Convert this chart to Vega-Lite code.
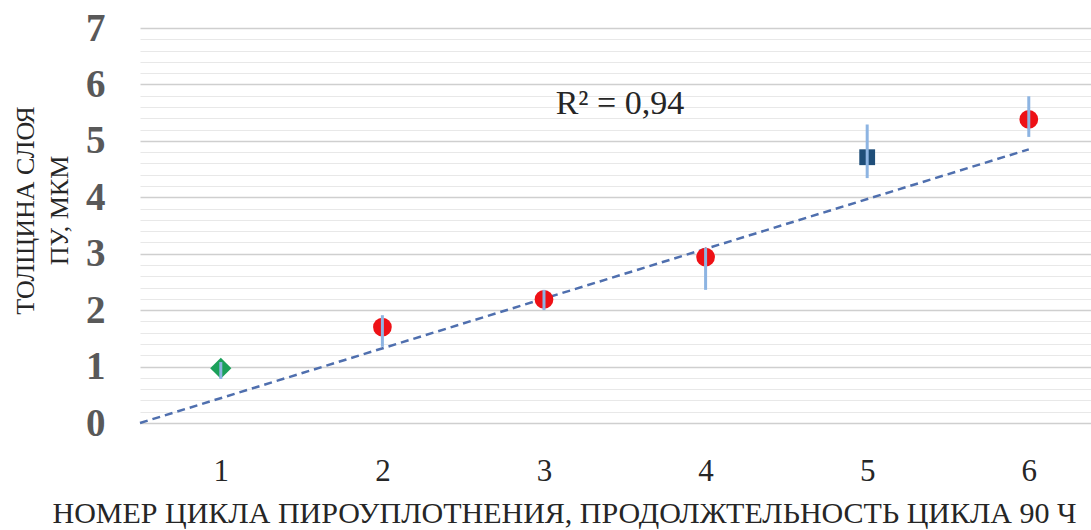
{
  "$schema": "https://vega.github.io/schema/vega-lite/v6.json",
  "autosize": {"type": "none"},
  "width": 951,
  "height": 395,
  "padding": {"left": 140, "top": 28, "right": 0, "bottom": 107},
  "background": "white",
  "config": {"view": {"stroke": null}, "font": "Liberation Serif"},
  "datasets": {
    "pts": [
      {"cycle": 1, "thickness": 0.97, "low": 0.78, "high": 1.08, "series": "a"},
      {"cycle": 2, "thickness": 1.70, "low": 1.35, "high": 1.91, "series": "b"},
      {"cycle": 3, "thickness": 2.19, "low": 2.0, "high": 2.36, "series": "b"},
      {"cycle": 4, "thickness": 2.94, "low": 2.36, "high": 3.10, "series": "b"},
      {"cycle": 5, "thickness": 4.71, "low": 4.34, "high": 5.29, "series": "c"},
      {"cycle": 6, "thickness": 5.38, "low": 5.07, "high": 5.79, "series": "b"}
    ],
    "trend": [
      {"cycle": 0.5, "thickness": 0},
      {"cycle": 6, "thickness": 4.85}
    ],
    "note": [
      {"cycle": 3.47, "thickness": 5.66, "label": "R² = 0,94"}
    ]
  },
  "encoding": {
    "x": {
      "field": "cycle", "type": "quantitative",
      "scale": {"domain": [0.5, 6.385], "nice": false, "zero": false},
      "axis": {
        "values": [1, 2, 3, 4, 5, 6],
        "grid": false, "domain": false, "ticks": false,
        "labelFont": "Liberation Serif", "labelFontSize": 31, "labelColor": "#262626",
        "labelPadding": 33,
        "title": "НОМЕР ЦИКЛА ПИРОУПЛОТНЕНИЯ, ПРОДОЛЖТЕЛЬНОСТЬ ЦИКЛА 90 Ч",
        "titleFont": "Liberation Serif", "titleFontSize": 30, "titleFontWeight": "normal",
        "titleColor": "#262626", "titlePadding": 12, "titleLimit": 3000,
        "titleX": 424, "titleAlign": "center"
      }
    },
    "y": {
      "field": "thickness", "type": "quantitative",
      "scale": {"domain": [0, 7], "nice": false},
      "axis": {
        "values": [0, 0.2, 0.4, 0.6, 0.8, 1, 1.2, 1.4, 1.6, 1.8, 2, 2.2, 2.4, 2.6, 2.8, 3, 3.2, 3.4, 3.6, 3.8, 4, 4.2, 4.4, 4.6, 4.8, 5, 5.2, 5.4, 5.6, 5.8, 6, 6.2, 6.4, 6.6, 6.8, 7],
        "labelExpr": "datum.value % 1 === 0 ? '' + datum.value : ''",
        "labelOverlap": false,
        "grid": true,
        "gridColor": {"condition": {"test": "datum.value % 1 === 0", "value": "#cfcfcf"}, "value": "#e8e8e8"},
        "gridWidth": {"condition": {"test": "datum.value % 1 === 0", "value": 1.6}, "value": 1.2},
        "domain": false, "ticks": false,
        "labelFont": "Liberation Serif", "labelFontSize": 39, "labelFontWeight": "bold",
        "labelColor": "#595959", "labelPadding": 35,
        "title": ["ТОЛЩИНА СЛОЯ", "ПУ, МКМ"],
        "titleFont": "Liberation Serif", "titleFontSize": 26, "titleFontWeight": "normal",
        "titleColor": "#262626", "titleAngle": -90, "titleBaseline": "top",
        "titleAlign": "center", "titleX": -128, "titleY": 182, "titleLineHeight": 34
      }
    }
  },
  "layer": [
    {
      "data": {"name": "trend"},
      "mark": {"type": "line", "color": "#4F6FAE", "strokeWidth": 2.5, "strokeDash": [8, 5]},
      "encoding": {}
    },
    {
      "data": {"name": "pts"},
      "mark": {"type": "point", "filled": true, "opacity": 1, "strokeWidth": 1},
      "encoding": {
        "shape": {"field": "series", "type": "nominal", "scale": {"domain": ["a", "b", "c"], "range": ["diamond", "circle", "square"]}, "legend": null},
        "color": {"field": "series", "type": "nominal", "scale": {"domain": ["a", "b", "c"], "range": ["#1BA05A", "#EE1116", "#1F4E79"]}, "legend": null},
        "size": {"field": "series", "type": "nominal", "scale": {"domain": ["a", "b", "c"], "range": [450, 250, 330]}, "legend": null}
      }
    },
    {
      "data": {"name": "pts"},
      "mark": {"type": "rule", "color": "#8DB4E2", "strokeWidth": 3},
      "encoding": {
        "y": {"field": "low", "type": "quantitative"},
        "y2": {"field": "high"}
      }
    },
    {
      "data": {"name": "note"},
      "mark": {"type": "text", "font": "Liberation Serif", "fontSize": 34, "color": "#262626", "align": "center", "baseline": "middle"},
      "encoding": {"text": {"field": "label"}}
    }
  ]
}
